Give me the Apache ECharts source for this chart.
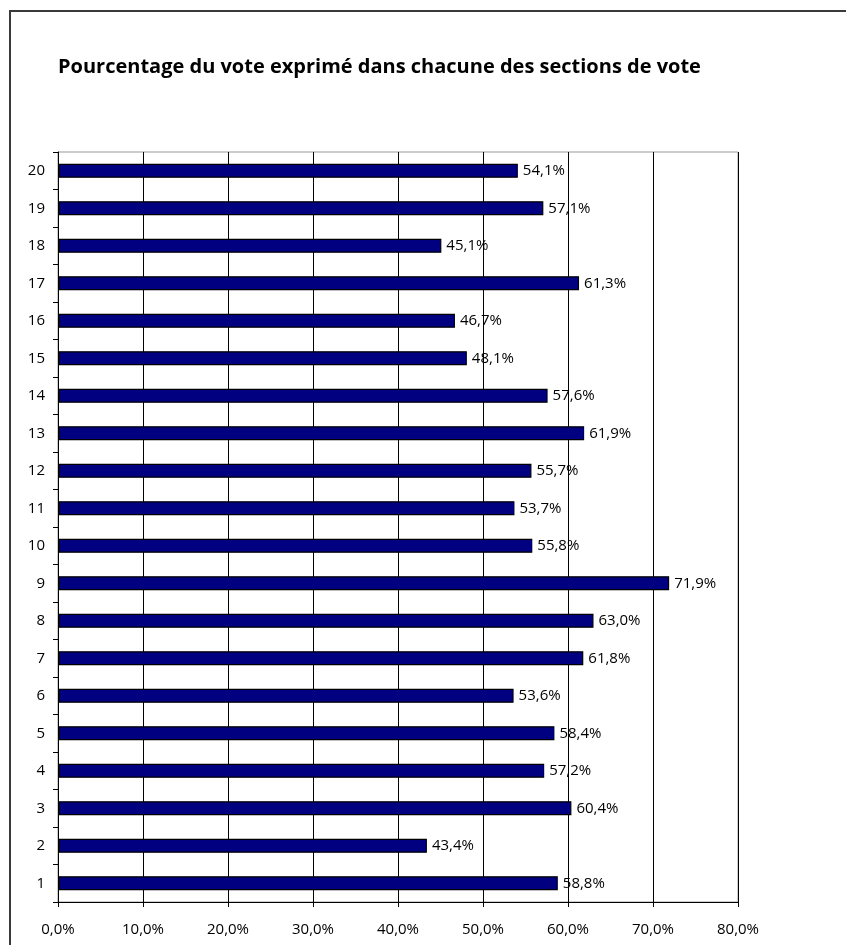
<!DOCTYPE html>
<html>
<head>
<meta charset="utf-8">
<style>html,body{margin:0;padding:0;background:#fff}#c{width:846px;height:945px}</style>
<script src="https://cdn.jsdelivr.net/npm/echarts@6/dist/echarts.min.js"></script>
</head>
<body>
<div id="c"></div>
<script>
const categories = ['1','2','3','4','5','6','7','8','9','10','11','12','13','14','15','16','17','18','19','20'];
const values = [58.8,43.4,60.4,57.2,58.4,53.6,61.8,63.0,71.9,55.8,53.7,55.7,61.9,57.6,48.1,46.7,61.3,45.1,57.1,54.1];
const titleText = 'Pourcentage du vote exprimé dans chacune des sections de vote';
const fmt = v => v.toFixed(1).replace('.', ',') + '%';
const chart = echarts.init(document.getElementById('c'));
const FONT = '"Open Sans", "Noto Sans", sans-serif';
chart.setOption({
  animation: false,
  textStyle: {fontFamily: FONT},
  title: {
    text: titleText, left: 53, top: 52,
    textStyle: {fontFamily: FONT, fontSize: 20, fontWeight: 'bold', color: '#000'}
  },
  graphic: [{
    type: 'rect', z: -1, silent: true,
    shape: {x: 10, y: 11, width: 1000, height: 1000},
    style: {fill: 'none', stroke: '#3a3a3a', lineWidth: 2}
  }],
  grid: {left: 58, right: 108, top: 152, bottom: 43, show: true, borderColor: '#999', borderWidth: 1, containLabel: false},
  xAxis: {
    type: 'value', min: 0, max: 80, interval: 10,
    axisLine: {show: true, lineStyle: {color: '#000', width: 1}},
    axisTick: {show: true, length: 5, lineStyle: {color: '#000'}},
    splitLine: {show: true, lineStyle: {color: '#000', width: 1}},
    axisLabel: {formatter: v => v.toFixed(1).replace('.', ',') + '%', fontSize: 15, color: '#000', margin: 20, fontFamily: FONT}
  },
  yAxis: {
    type: 'category', data: categories,
    axisLine: {show: true, lineStyle: {color: '#000', width: 1}},
    axisTick: {show: true, length: 5, alignWithLabel: false, lineStyle: {color: '#000'}},
    axisLabel: {fontSize: 15, color: '#000', margin: 13, fontFamily: FONT}
  },
  series: [{
    type: 'bar', data: values, barWidth: 14,
    itemStyle: {color: '#000080', borderColor: '#000', borderWidth: 1.2},
    label: {show: true, position: 'right', distance: 5, formatter: p => fmt(p.value), fontSize: 15, color: '#000', fontFamily: FONT}
  }]
});
</script>
</body>
</html>
